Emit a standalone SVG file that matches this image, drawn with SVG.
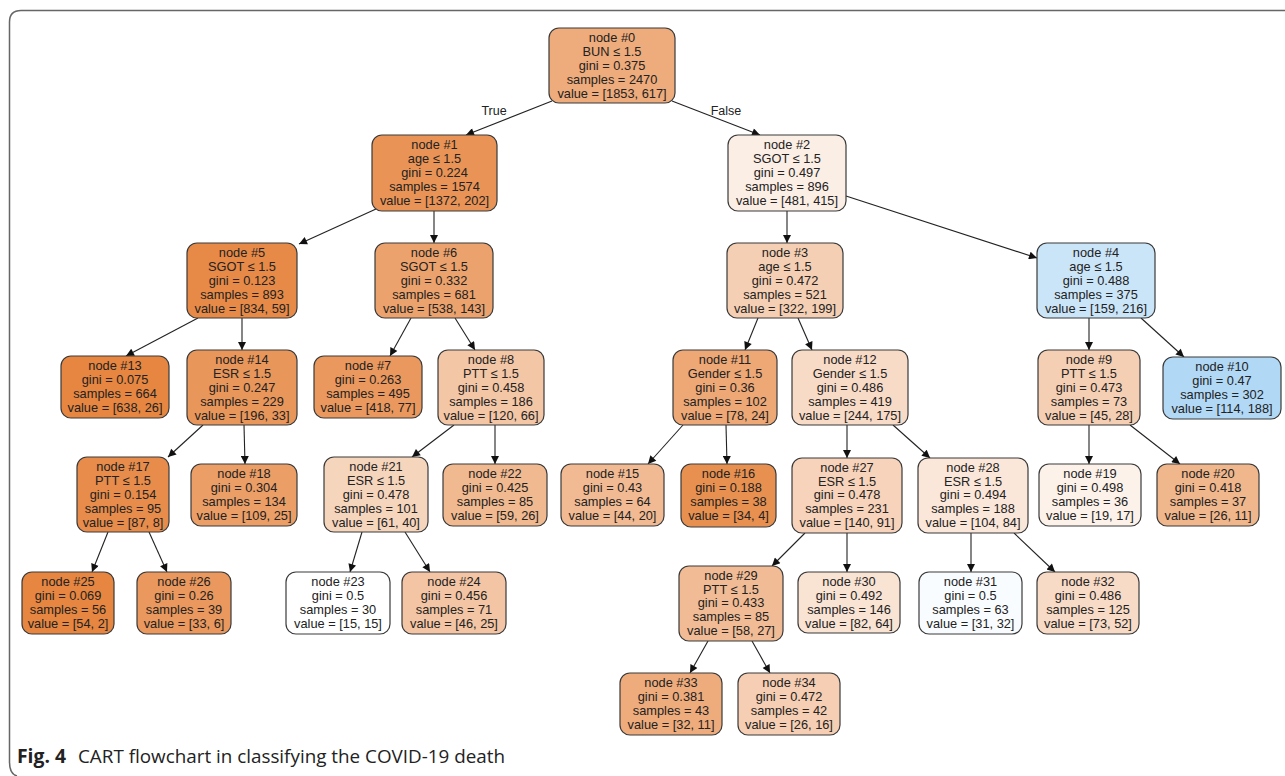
<svg xmlns="http://www.w3.org/2000/svg" width="1285" height="776" viewBox="0 0 1285 776">
<style>
.n rect{stroke:#3a3a3a;stroke-width:1.2}
.n text{font-family:"Liberation Sans",Arial,sans-serif;font-size:12.8px;fill:#222;text-anchor:middle}
.e line{stroke:#222;stroke-width:1.1;marker-end:url(#ah)}
.lbl{font-family:"Liberation Sans",Arial,sans-serif;font-size:12.5px;fill:#222;text-anchor:middle}
.cap{font-family:"Open Sans","Liberation Sans",sans-serif;font-size:19px;fill:#222}
</style>
<defs>
<marker id="ah" viewBox="0 0 10 10" refX="10" refY="5" markerWidth="10" markerHeight="8" markerUnits="userSpaceOnUse" orient="auto"><path d="M0,0 L10,5 L0,10 z" fill="#111"/></marker>
</defs>
<rect width="1285" height="776" fill="#fff"/>
<path d="M1285,10.5 H21 Q9.5,10.5 9.5,22 V762 Q9.5,774 17,776" fill="none" stroke="#666" stroke-width="1.5"/>

<g class="e" id="connectors">
<line x1="552" y1="101" x2="466" y2="135"/>
<line x1="672" y1="101" x2="760" y2="135"/>
<line x1="376" y1="209" x2="299" y2="244"/>
<line x1="434" y1="211" x2="434" y2="243"/>
<line x1="787" y1="211" x2="787" y2="243"/>
<line x1="846" y1="196" x2="1037" y2="258"/>
<line x1="198" y1="318" x2="126" y2="356"/>
<line x1="242" y1="318" x2="242" y2="350"/>
<line x1="411" y1="318" x2="390" y2="356"/>
<line x1="455" y1="318" x2="475" y2="350"/>
<line x1="758" y1="318" x2="745" y2="350"/>
<line x1="798" y1="318" x2="812" y2="350"/>
<line x1="1089" y1="318" x2="1089" y2="350"/>
<line x1="1141" y1="318" x2="1184" y2="357"/>
<line x1="203" y1="425" x2="168" y2="457"/>
<line x1="244" y1="425" x2="245" y2="464"/>
<line x1="454" y1="425" x2="412" y2="457"/>
<line x1="495" y1="425" x2="495" y2="464"/>
<line x1="683" y1="425" x2="648" y2="464"/>
<line x1="726" y1="425" x2="727" y2="464"/>
<line x1="847" y1="425" x2="847" y2="458"/>
<line x1="893" y1="425" x2="930" y2="458"/>
<line x1="1089" y1="425" x2="1089" y2="464"/>
<line x1="1130" y1="425" x2="1180" y2="464"/>
<line x1="108" y1="532" x2="92" y2="572"/>
<line x1="149" y1="532" x2="167" y2="572"/>
<line x1="362" y1="532" x2="350" y2="572"/>
<line x1="405" y1="532" x2="430" y2="572"/>
<line x1="805" y1="533" x2="772" y2="566"/>
<line x1="847" y1="533" x2="847" y2="572"/>
<line x1="971" y1="533" x2="971" y2="572"/>
<line x1="1014" y1="533" x2="1055" y2="572"/>
<line x1="708" y1="641" x2="690" y2="673"/>
<line x1="752" y1="641" x2="770" y2="673"/>
</g>
<text class="lbl" x="494" y="115">True</text>
<text class="lbl" x="726" y="115">False</text>

<g class="n" id="node0"><rect x="549" y="28" width="126" height="75" rx="10" fill="#eeab7b"/><text x="612" y="41.5">node #0</text><text x="612" y="55.5">BUN ≤ 1.5</text><text x="612" y="69.5">gini = 0.375</text><text x="612" y="83.5">samples = 2470</text><text x="612" y="97.5">value = [1853, 617]</text></g>
<g class="n" id="node1"><rect x="372" y="135" width="125" height="76" rx="10" fill="#e99456"/><text x="434.5" y="148.5">node #1</text><text x="434.5" y="162.5">age ≤ 1.5</text><text x="434.5" y="176.5">gini = 0.224</text><text x="434.5" y="190.5">samples = 1574</text><text x="434.5" y="204.5">value = [1372, 202]</text></g>
<g class="n" id="node2"><rect x="728" y="135" width="118" height="76" rx="10" fill="#fbeee4"/><text x="787" y="148.5">node #2</text><text x="787" y="162.5">SGOT ≤ 1.5</text><text x="787" y="176.5">gini = 0.497</text><text x="787" y="190.5">samples = 896</text><text x="787" y="204.5">value = [481, 415]</text></g>
<g class="n" id="node5"><rect x="187" y="243" width="110" height="75" rx="10" fill="#e78a47"/><text x="242" y="256.5">node #5</text><text x="242" y="270.5">SGOT ≤ 1.5</text><text x="242" y="284.5">gini = 0.123</text><text x="242" y="298.5">samples = 893</text><text x="242" y="312.5">value = [834, 59]</text></g>
<g class="n" id="node6"><rect x="375" y="243" width="118" height="75" rx="10" fill="#eca26d"/><text x="434" y="256.5">node #6</text><text x="434" y="270.5">SGOT ≤ 1.5</text><text x="434" y="284.5">gini = 0.332</text><text x="434" y="298.5">samples = 681</text><text x="434" y="312.5">value = [538, 143]</text></g>
<g class="n" id="node3"><rect x="727" y="243" width="116" height="75" rx="10" fill="#f5cfb3"/><text x="785" y="256.5">node #3</text><text x="785" y="270.5">age ≤ 1.5</text><text x="785" y="284.5">gini = 0.472</text><text x="785" y="298.5">samples = 521</text><text x="785" y="312.5">value = [322, 199]</text></g>
<g class="n" id="node4"><rect x="1037" y="243" width="118" height="75" rx="10" fill="#cbe5f8"/><text x="1096" y="256.5">node #4</text><text x="1096" y="270.5">age ≤ 1.5</text><text x="1096" y="284.5">gini = 0.488</text><text x="1096" y="298.5">samples = 375</text><text x="1096" y="312.5">value = [159, 216]</text></g>

<g class="n" id="node13"><rect x="61" y="356" width="108" height="62" rx="10" fill="#e68641"/><text x="115" y="370">node #13</text><text x="115" y="384">gini = 0.075</text><text x="115" y="398">samples = 664</text><text x="115" y="412">value = [638, 26]</text></g>
<g class="n" id="node14"><rect x="187" y="350" width="110" height="75" rx="10" fill="#e9965a"/><text x="242" y="363.5">node #14</text><text x="242" y="377.5">ESR ≤ 1.5</text><text x="242" y="391.5">gini = 0.247</text><text x="242" y="405.5">samples = 229</text><text x="242" y="419.5">value = [196, 33]</text></g>
<g class="n" id="node7"><rect x="314" y="356" width="108" height="62" rx="10" fill="#ea985d"/><text x="368" y="370">node #7</text><text x="368" y="384">gini = 0.263</text><text x="368" y="398">samples = 495</text><text x="368" y="412">value = [418, 77]</text></g>
<g class="n" id="node8"><rect x="438" y="350" width="106" height="75" rx="10" fill="#f3c6a6"/><text x="491" y="363.5">node #8</text><text x="491" y="377.5">PTT ≤ 1.5</text><text x="491" y="391.5">gini = 0.458</text><text x="491" y="405.5">samples = 186</text><text x="491" y="419.5">value = [120, 66]</text></g>
<g class="n" id="node11"><rect x="673" y="350" width="104" height="75" rx="10" fill="#eda876"/><text x="725" y="363.5">node #11</text><text x="725" y="377.5">Gender ≤ 1.5</text><text x="725" y="391.5">gini = 0.36</text><text x="725" y="405.5">samples = 102</text><text x="725" y="419.5">value = [78, 24]</text></g>
<g class="n" id="node12"><rect x="792" y="350" width="116" height="75" rx="10" fill="#f8dbc7"/><text x="850" y="363.5">node #12</text><text x="850" y="377.5">Gender ≤ 1.5</text><text x="850" y="391.5">gini = 0.486</text><text x="850" y="405.5">samples = 419</text><text x="850" y="419.5">value = [244, 175]</text></g>
<g class="n" id="node9"><rect x="1038" y="350" width="102" height="75" rx="10" fill="#f5cfb4"/><text x="1089" y="363.5">node #9</text><text x="1089" y="377.5">PTT ≤ 1.5</text><text x="1089" y="391.5">gini = 0.473</text><text x="1089" y="405.5">samples = 73</text><text x="1089" y="419.5">value = [45, 28]</text></g>
<g class="n" id="node10"><rect x="1163" y="357" width="118" height="62" rx="10" fill="#b1d8f5"/><text x="1222" y="371">node #10</text><text x="1222" y="385">gini = 0.47</text><text x="1222" y="399">samples = 302</text><text x="1222" y="413">value = [114, 188]</text></g>

<g class="n" id="node17"><rect x="77" y="457" width="92" height="75" rx="10" fill="#e78c4b"/><text x="123" y="470.5">node #17</text><text x="123" y="484.5">PTT ≤ 1.5</text><text x="123" y="498.5">gini = 0.154</text><text x="123" y="512.5">samples = 95</text><text x="123" y="526.5">value = [87, 8]</text></g>
<g class="n" id="node18"><rect x="191" y="464" width="106" height="62" rx="10" fill="#eb9e66"/><text x="244" y="478">node #18</text><text x="244" y="492">gini = 0.304</text><text x="244" y="506">samples = 134</text><text x="244" y="520">value = [109, 25]</text></g>
<g class="n" id="node21"><rect x="324" y="457" width="104" height="75" rx="10" fill="#f6d5bd"/><text x="376" y="470.5">node #21</text><text x="376" y="484.5">ESR ≤ 1.5</text><text x="376" y="498.5">gini = 0.478</text><text x="376" y="512.5">samples = 101</text><text x="376" y="526.5">value = [61, 40]</text></g>
<g class="n" id="node22"><rect x="443" y="464" width="104" height="62" rx="10" fill="#f0b990"/><text x="495" y="478">node #22</text><text x="495" y="492">gini = 0.425</text><text x="495" y="506">samples = 85</text><text x="495" y="520">value = [59, 26]</text></g>
<g class="n" id="node15"><rect x="561" y="464" width="103" height="62" rx="10" fill="#f1ba93"/><text x="612.5" y="478">node #15</text><text x="612.5" y="492">gini = 0.43</text><text x="612.5" y="506">samples = 64</text><text x="612.5" y="520">value = [44, 20]</text></g>
<g class="n" id="node16"><rect x="681" y="464" width="95" height="63" rx="10" fill="#e89050"/><text x="728.5" y="478">node #16</text><text x="728.5" y="492">gini = 0.188</text><text x="728.5" y="506">samples = 38</text><text x="728.5" y="520">value = [34, 4]</text></g>
<g class="n" id="node27"><rect x="792" y="458" width="110" height="75" rx="10" fill="#f6d3ba"/><text x="847" y="471.5">node #27</text><text x="847" y="485.5">ESR ≤ 1.5</text><text x="847" y="499">gini = 0.478</text><text x="847" y="512.5">samples = 231</text><text x="847" y="526.5">value = [140, 91]</text></g>
<g class="n" id="node28"><rect x="918" y="458" width="110" height="75" rx="10" fill="#fae7d9"/><text x="973" y="471.5">node #28</text><text x="973" y="485.5">ESR ≤ 1.5</text><text x="973" y="499">gini = 0.494</text><text x="973" y="512.5">samples = 188</text><text x="973" y="526.5">value = [104, 84]</text></g>
<g class="n" id="node19"><rect x="1039" y="464" width="102" height="62" rx="10" fill="#fcf2ea"/><text x="1090" y="478">node #19</text><text x="1090" y="492">gini = 0.498</text><text x="1090" y="506">samples = 36</text><text x="1090" y="520">value = [19, 17]</text></g>
<g class="n" id="node20"><rect x="1157" y="464" width="102" height="62" rx="10" fill="#f0b68c"/><text x="1208" y="478">node #20</text><text x="1208" y="492">gini = 0.418</text><text x="1208" y="506">samples = 37</text><text x="1208" y="520">value = [26, 11]</text></g>

<g class="n" id="node25"><rect x="22" y="572" width="92" height="62" rx="10" fill="#e68640"/><text x="68" y="586">node #25</text><text x="68" y="600">gini = 0.069</text><text x="68" y="614">samples = 56</text><text x="68" y="628">value = [54, 2]</text></g>
<g class="n" id="node26"><rect x="137" y="572" width="94" height="62" rx="10" fill="#ea985d"/><text x="184" y="586">node #26</text><text x="184" y="600">gini = 0.26</text><text x="184" y="614">samples = 39</text><text x="184" y="628">value = [33, 6]</text></g>
<g class="n" id="node23"><rect x="286" y="572" width="104" height="62" rx="10" fill="#ffffff"/><text x="338" y="586">node #23</text><text x="338" y="600">gini = 0.5</text><text x="338" y="614">samples = 30</text><text x="338" y="628">value = [15, 15]</text></g>
<g class="n" id="node24"><rect x="402" y="572" width="104" height="62" rx="10" fill="#f3c5a4"/><text x="454" y="586">node #24</text><text x="454" y="600">gini = 0.456</text><text x="454" y="614">samples = 71</text><text x="454" y="628">value = [46, 25]</text></g>
<g class="n" id="node29"><rect x="679" y="566" width="104" height="75" rx="10" fill="#f1bc95"/><text x="731" y="579.5">node #29</text><text x="731" y="593.5">PTT ≤ 1.5</text><text x="731" y="607">gini = 0.433</text><text x="731" y="620.5">samples = 85</text><text x="731" y="634.5">value = [58, 27]</text></g>
<g class="n" id="node30"><rect x="798" y="572" width="102" height="61" rx="10" fill="#f9e3d3"/><text x="849" y="586">node #30</text><text x="849" y="600">gini = 0.492</text><text x="849" y="614">samples = 146</text><text x="849" y="628">value = [82, 64]</text></g>
<g class="n" id="node31"><rect x="919" y="572" width="103" height="62" rx="10" fill="#f9fcfe"/><text x="970.5" y="586">node #31</text><text x="970.5" y="600">gini = 0.5</text><text x="970.5" y="614">samples = 63</text><text x="970.5" y="628">value = [31, 32]</text></g>
<g class="n" id="node32"><rect x="1037" y="572" width="102" height="62" rx="10" fill="#f8dbc6"/><text x="1088" y="586">node #32</text><text x="1088" y="600">gini = 0.486</text><text x="1088" y="614">samples = 125</text><text x="1088" y="628">value = [73, 52]</text></g>

<g class="n" id="node33"><rect x="620" y="673" width="102" height="62" rx="10" fill="#eeac7d"/><text x="671" y="687">node #33</text><text x="671" y="701">gini = 0.381</text><text x="671" y="715">samples = 43</text><text x="671" y="729">value = [32, 11]</text></g>
<g class="n" id="node34"><rect x="738" y="673" width="102" height="62" rx="10" fill="#f5ceb3"/><text x="789" y="687">node #34</text><text x="789" y="701">gini = 0.472</text><text x="789" y="715">samples = 42</text><text x="789" y="729">value = [26, 16]</text></g>

<text class="cap" x="17" y="763" font-weight="bold" textLength="49" lengthAdjust="spacingAndGlyphs">Fig. 4</text>
<text class="cap" x="78" y="763" textLength="427" lengthAdjust="spacingAndGlyphs">CART flowchart in classifying the COVID-19 death</text>
</svg>
